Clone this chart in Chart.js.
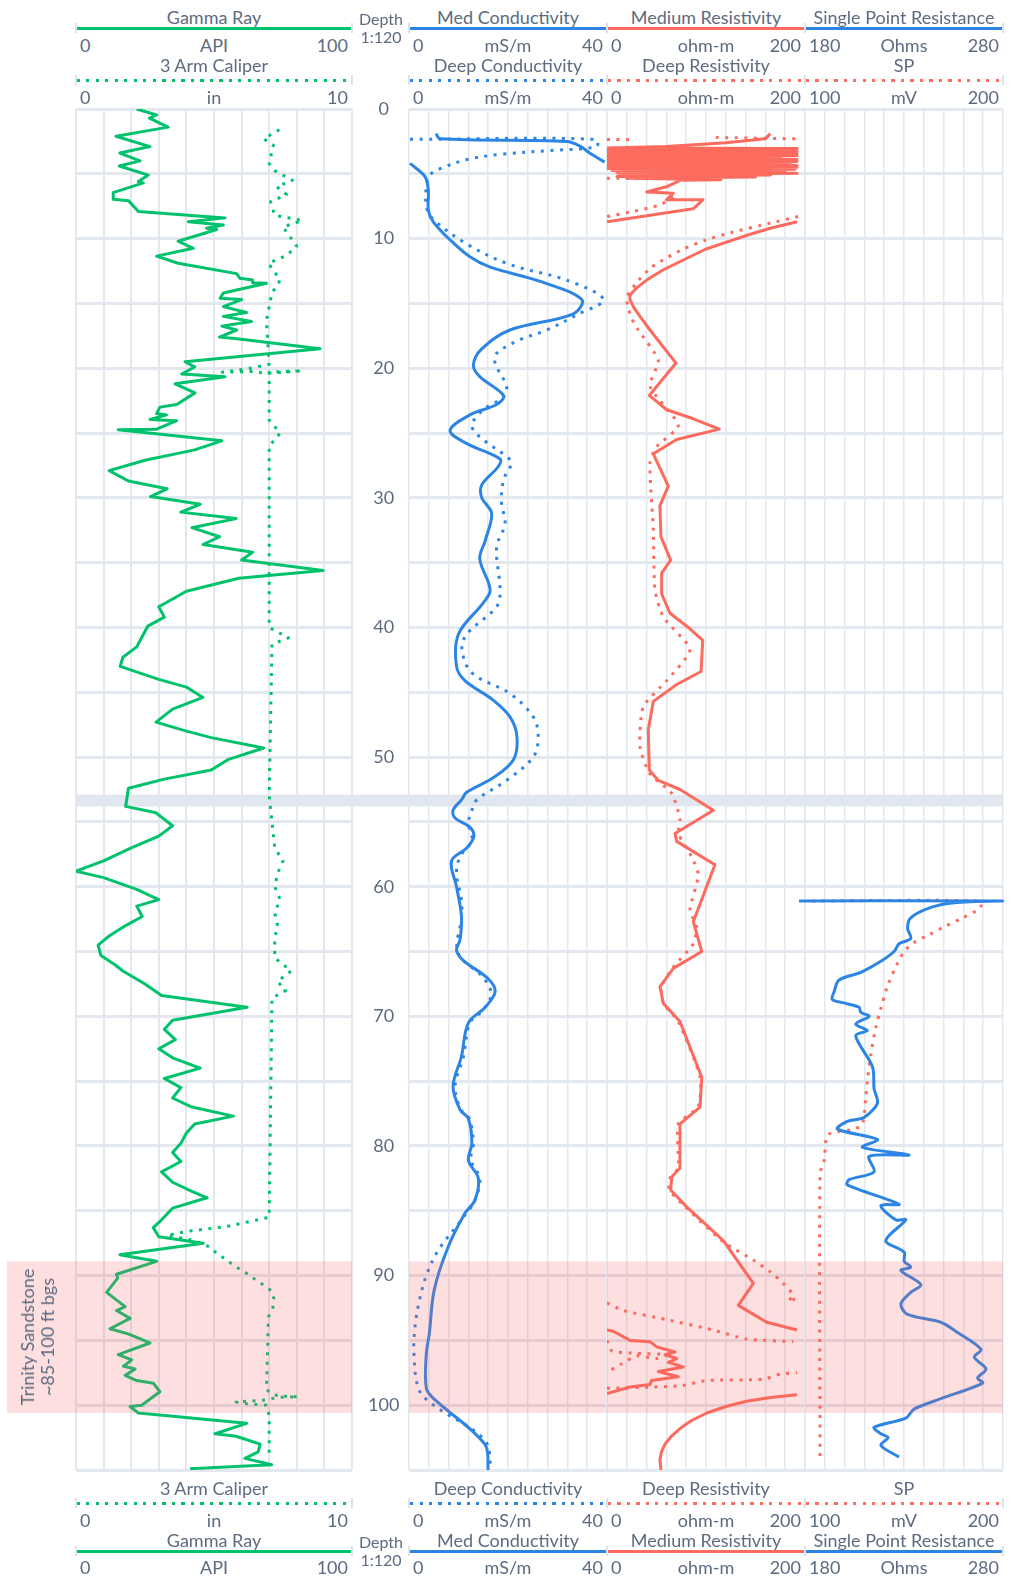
<!DOCTYPE html>
<html>
<head>
<meta charset="utf-8">
<title>Well log</title>
<script src="https://cdn.jsdelivr.net/npm/chart.js@4.4.1/dist/chart.umd.min.js"></script>
<style>
  html, body { margin: 0; padding: 0; background: #fff; }
  #page { position: relative; width: 1015px; height: 1583px; overflow: hidden; font-family: Lato, "Noto Sans", sans-serif; color: #5c6b80; }
  #page canvas { position: absolute; }
  .lbl { position: absolute; font-size: 18px; line-height: 20px; white-space: nowrap; }
  .hline { position: absolute; height: 3px; }
  .cap { position: absolute; width: 2px; height: 10px; background: #dde3ea; }
  #formation { position: absolute; left: 37px; top: 1337px; font-size: 18px; line-height: 20px; text-align: center; white-space: nowrap; transform: translate(-50%, -50%) rotate(-90deg); }
</style>
</head>
<body>
<div id="page">
  <canvas id="gammaChart" width="409" height="1441" style="left:0;top:69px"></canvas>
  <canvas id="condChart" width="216" height="1441" style="left:400px;top:69px"></canvas>
  <canvas id="resChart" width="216" height="1441" style="left:598px;top:69px"></canvas>
  <canvas id="sprChart" width="216" height="1441" style="left:796px;top:69px"></canvas>
  <div id="formation">Trinity Sandstone<br>~85-100 ft bgs</div>
</div>
<script>
// depth interval of the formation band and the page-break band (ft)
const formationDepths = [88.9, 100.6];
const breakDepths = [52.9, 53.8];

// Gamma Ray (API)
const gammaDepth = [0, 0.46, 0.7, 1.4, 2.1, 2.9, 3.4, 4.0, 4.4, 5.1, 5.6, 5.7, 6.45, 6.97, 7.07, 7.9, 8.4, 8.7, 8.95, 9.2, 9.3,
  10.2, 10.75, 11.35, 11.9, 12.7, 13.06, 13.2, 13.4, 13.45, 14.2, 14.6, 14.7, 15.25, 15.7, 16.0, 16.4, 16.75, 17.05, 17.6, 17.7,
  18.5, 19.5, 19.9, 20.45, 20.65, 21.2, 21.9, 22.8, 23.0, 23.5, 23.6, 23.95, 24.05, 24.7, 24.75, 25.6, 26.3,
  27.1, 27.9, 28.7, 29.3, 29.9, 30.5, 31.1, 31.6, 32.3, 33.0, 33.6, 34.2, 34.8, 35.6, 36.2, 37.2, 38.4, 39.2, 39.9, 40.7,
  41.5, 42.3, 43.0, 44.0, 44.6, 45.4, 46.3, 47.3, 48.0, 48.5, 49.3, 50.2, 51.0, 51.7, 52.4, 53.8,
  54.3, 55.3, 56.1, 57.0, 58.0, 58.8, 59.3, 60.2, 61.0, 61.5, 62.3, 63.0, 63.8, 64.5, 65.3, 66.0, 66.5, 67.5, 68.4, 69.3,
  70.3, 71.0, 71.8, 72.5, 73.2, 74.0, 74.8, 75.5, 76.3, 77.0, 77.7, 78.3, 79.0, 79.8, 80.5, 81.2, 82.0, 82.8, 83.5, 84.0,
  84.8, 85.7, 86.3, 87.0, 87.5, 88.4, 88.9, 89.9, 90.2, 91.3, 92.4, 92.7, 93.3, 94.1, 94.5, 95.2, 96.1, 96.5, 97.0, 97.2,
  97.7, 98.1, 98.3, 98.96, 100.0, 100.1, 100.6, 101.4, 102.2, 102.4, 103.0, 103.6, 104.1, 104.6, 104.9];
const gammaApi = [22, 29.2, 26.6, 33.4, 14.5, 26.8, 15.9, 23.2, 15.7, 26.2, 22.6, 24.4, 13.5, 13.5, 19, 22.6, 54, 40.7, 53.4, 47.3, 51,
  37, 42.5, 29.2, 37, 58.2, 59.4, 64, 64, 69, 53.4, 52.2, 60, 53.4, 61.8, 53.4, 63.6, 52.8, 58.2, 52, 57.6,
  88.4, 39.5, 43, 38.3, 54, 35.9, 43.1, 36.5, 30.4, 29.2, 32.8, 26.8, 36.5, 29.2, 15.3, 52.8, 43,
  25, 12, 19, 33, 27, 45, 38, 58, 42, 52, 46, 64, 60, 89.5, 59, 40, 30, 32, 26, 24,
  22, 17, 16, 30, 40, 46, 35, 29, 40, 49, 68, 55, 49, 32, 19, 18,
  29, 35, 30, 20, 10, 0, 10, 22, 30, 22, 24, 18, 12, 8, 9, 14, 17, 25, 31, 62,
  35, 32, 36, 30, 35, 45, 32, 38, 35, 42, 57, 43, 40, 38, 35, 38, 31, 35, 42, 47.5,
  35, 31, 28, 30, 46.1, 15.9, 29.2, 14.7, 15.1, 11.1, 17.8, 14.7, 19.6, 12.3, 18.9, 26.8, 15.3, 20.2, 17.2, 21.4,
  17.8, 22, 28, 30.4, 23.8, 19.6, 22.6, 61.8, 50.4, 58, 66.7, 66, 61.2, 70.9, 41.3];

// 3 Arm Caliper (in)
const caliperDepth = [1.6, 2.3, 2.8, 4.2, 4.75, 5.5, 6.0, 6.6, 7.15, 8.2, 8.6, 9.1, 10.6, 11.3, 11.9, 13.2, 14.2, 16.3, 19.7,
  20.05, 20.3, 20.25, 20.4, 20.2, 20.3, 21.5, 24.0, 25.0, 26.0, 40.0, 40.8, 41.3, 53.0, 57.0, 58.0, 59.0, 60.0, 61.0, 62.0,
  63.0, 64.0, 65.5, 66.5, 67.3, 68.0, 68.6, 85.5, 86.2, 86.6, 86.9, 87.3, 87.8, 88.3, 88.8, 89.2, 89.9, 90.4, 90.8, 91.2,
  91.8, 92.5, 93.2, 95.0, 98.8, 99.2, 99.3, 99.35, 99.4, 99.6, 99.75, 99.9, 100.0, 100.8, 104.1];
const caliperIn = [7.37, 6.8, 7.15, 7.0, 7.2, 7.84, 7.27, 7.63, 7.05, 7.2, 8.2, 7.5, 8.0, 7.63, 6.97, 7.4, 7.1, 6.9, 7.0,
  6.2, 5.3, 6.4, 6.9, 8.2, 7.0, 7.0, 7.0, 7.4, 7.0, 7.0, 7.7, 7.1, 7.0, 7.2, 7.5, 7.3, 7.2, 7.4, 7.2,
  7.3, 7.2, 7.2, 7.8, 7.3, 7.6, 7.1, 7.0, 5.5, 4.0, 3.3, 4.3, 4.85, 5.1, 5.46, 5.7, 6.24, 6.55, 6.85, 7.09,
  7.17, 7.13, 6.97, 6.95, 6.9, 7.15, 7.5, 8.05, 7.3, 6.9, 5.8, 6.2, 6.9, 7.0, 7.0];

// Med Conductivity (mS/m); null = gap in the trace
const medCondDepth = [1.9, 2.3, 2.5, 2.9, 3.4, 4.1, null, 4.2, 5.2, 6.25, 7.8, 8.7, 10.1, 11.4, 12.2, 13.3, 14.7, 15.8, 17.05,
  18.5, 19.75, 20.65, 22.1, 22.8, 23.6, 24.8, 25.8, 27.0, 27.6, 29.0, 30.0, 31.2, 33.3, 34.7, 37.1, 38.1, 40.5, 43.0, 44.1,
  45.6, 46.9, 48.4, 50.2, 51.6, 52.7, 53.3, 54.1, 54.7, 55.4, 56.1, 57.0, 58.0, 60.0, 62.3, 64.1, 64.9, 65.7, 67.1, 68.1,
  69.3, 70.5, 73.1, 75.4, 77.2, 77.9, 79.8, 81.1, 82.5, 84.2, 85.2, 87.8, 91.1, 94.5, 96.0, 98.7, 99.5, 103.0, 105.0];
const medCondValue = [5.45, 6.3, 31.9, 34.7, 36.5, 39.5, null, 0.2, 3.2, 3.9, 3.9, 4.9, 8.3, 12.3, 16.4, 26.5, 34.9, 33.2, 20.4,
  14.7, 13.0, 14.3, 19.1, 17.7, 12.3, 8.3, 11.6, 18.4, 18.0, 14.7, 14.7, 16.7, 15.4, 14.3, 16.4, 15.0, 10.0, 9.6, 11.3,
  17.0, 20.4, 21.8, 21.1, 17.0, 11.7, 10.6, 8.9, 9.3, 12.3, 13.1, 11.7, 8.6, 9.6, 10.6, 10.3, 9.6, 11.0, 16.0, 17.4,
  15.4, 12.0, 10.6, 8.9, 10.3, 12.0, 12.7, 12.0, 14.0, 13.3, 11.3, 7.9, 5.1, 4.1, 3.5, 3.5, 5.0, 15.3, 16.0];

// Deep Conductivity (mS/m)
const deepCondDepth = [2.34, 2.34, 2.9, 3.2, 3.5, 3.9, 4.6, 5.1, 6.0, 7.5, 8.4, 10.4, 12.0, 13.2, 14.7, 15.8, 17.05, 17.8, 18.85,
  19.6, 21.4, 22.2, 23.2, 24.4, 25.3, 26.8, 27.3, 28.6, 30.4, 32.0, 33.8, 37.1, 38.4, 40.5, 41.7, 43.5, 45.1, 46.9, 48.4,
  50.0, 51.8, 53.3, 54.1, 55.1, 56.4, 57.7, 59.0, 61.0, 62.4, 65.1, 67.0, 68.3, 69.5, 70.5, 73.1, 75.4, 77.2, 77.9, 79.8,
  81.1, 82.5, 84.2, 85.5, 88.0, 90.0, 92.1, 94.0, 96.0, 98.8, 100.0, 102.7, 105.0];
const deepCondValue = [0.2, 37.7, 37.9, 28.5, 18.4, 11.7, 6.3, 4.2, 3.5, 3.5, 4.6, 11.6, 20.4, 31.8, 39.3, 34.3, 27.8, 22.4, 17.7,
  17.4, 19.7, 19.1, 15.0, 12.7, 14.3, 19.7, 20.7, 19.1, 18.7, 19.4, 17.7, 18.4, 17.7, 11.7, 10.7, 12.7, 20.4, 25.1, 26.1,
  25.1, 19.7, 13.7, 12.7, 12.0, 12.7, 10.3, 9.6, 10.6, 10.6, 9.9, 15.0, 16.6, 15.0, 12.3, 11.0, 9.3, 10.5, 12.2, 13.0,
  12.5, 14.3, 13.3, 11.0, 6.0, 3.5, 2.0, 1.2, 1.0, 2.0, 5.0, 15.3, 16.6];

// Medium Resistivity (ohm-m)
const medResDepth = [1.9, 2.3, 2.6, 2.9, 3.0, 3.05, 3.1, 3.15, 3.25, 3.3, 3.4, 3.45, 3.55, 3.6, 3.7, 3.75, 3.85, 3.9, 4.0, 4.05,
  4.15, 4.2, 4.3, 4.35, 4.45, 4.5, 4.6, 4.65, 4.75, 4.8, 4.9, 4.95, 5.05, 5.1, 5.2, 5.25, 5.35, 5.45, 5.5, 6.0, 6.4, 6.5,
  7.0, 7.0, 7.7, 8.7, null, 8.7, 9.2, 9.7, 10.1, 10.8, 11.65, 12.4, 13.2, 13.8, 14.35, 14.7, 15.3, 16.0, 17.05, 19.6, 22.1,
  23.2, 23.9, 24.7, 25.5, 26.6, 29.1,
  30.6, 33.0, 34.8, 35.8, 37.4, 38.9, 40.1, 41.0, 43.4, 44.4, 45.7, 47.9, 51.0, 51.8, 52.5, 54.1, 55.9, 56.5, 58.3, 62.7,
  65.0, 66.3, 67.7, 69.0, 70.4, 74.7, 77.0, 78.3, 81.7, 82.4, 83.4, 84.7, 87.3, 90.6, 92.3, 93.6, 94.2, null, 94.2, 94.3,
  95.0, 95.1, 95.5, 95.9, 96.1, 96.4, 96.7, 97.05, 97.4, 97.8, 98.1, 98.4, 98.6, 99.1, null, 99.2, 99.4, 99.7, 100.1, 100.6,
  101.2, 101.8, 102.4, 103.0, 103.6, 104.2, 105.0];
const medResValue = [165, 160, 120, 60, 0, 192, 0, 192, 0, 192, 0, 192, 0, 192, 0, 175, 0, 192, 0, 192,
  0, 185, 0, 192, 0, 192, 0, 190, 5, 180, 10, 192, 12, 165, 10, 150, 20, 115, 74, 60, 40, 67,
  60, 97, 87, 0, null, 192, 165, 143, 127.6, 100, 77, 57, 40, 30, 23.2, 23.2, 27, 33.3, 43.4, 69.7, 42.7,
  60.3, 87.2, 113.4, 70.4, 46.8, 61.9,
  53.5, 54.5, 64.3, 55.2, 55.2, 63.6, 83.8, 96.7, 95, 70.4, 46.8, 41.7, 42.7, 51.8, 73.7, 107.4, 68.7, 70.4, 109, 87.2,
  95.7, 67, 53.5, 56.9, 73.7, 95.7, 94, 73.7, 73.7, 65.4, 64.3, 80.5, 117.5, 147.8, 132.6, 161.3, 192, null, 0, 6.4,
  23.2, 43.4, 50.2, 68.7, 58.6, 70.4, 62, 77.1, 51.8, 72, 45, 43.4, 23.2, 0, null, 192, 165, 141, 120, 100.7,
  85, 73.7, 65, 58.6, 55, 53.5, 54.5];

// Deep Resistivity (ohm-m)
const deepResDepth = [2.2, 2.3, null, 2.35, 2.35, null, 5.35, 5.3, 5.25, 5.2, 5.1, 5.0, null, 6.8, 7.4, 7.9, 8.3, null,
  8.3, 8.8, 9.5, 10.1, 10.8, 11.5, 12.2, 13.2, 14.5, 15.5, 16.5, 17.05, 19.4, 21.4, 24.4, 26.05, 27.3, 32.5, 37.1, 39.2,
  41.7, 44.1, 46.1,
  49.2, 51.3, 52.8, 54.8, 55.9, 57.7, 59.1, 61.8, 63.1, 64.4, 66.2, 67.7, 69.0, 70.4, 74.7, 77.0, 78.3, 81.7, 82.4, 83.4,
  84.7, 87.4, 88.8, 89.7, 90.6, 91.5, 92.0, 91.8, null, 92.1, 92.7, 93.4, 94.2, 94.9, 95.1, null, 95.0, 95.8, 96.0, 96.1,
  96.4, 96.2, 96.8, 97.4, null, 98.7, 98.6, 98.5, 98.1, 98.0, 97.6, 97.5];
const deepResValue = [110, 192, null, 0, 27, null, 0, 40, 70, 100, 140, 174, null, 67, 53.5, 26.6, 0, null,
  193, 165, 127, 100, 77, 60, 45, 32, 20, 22, 27, 31.6, 51.8, 43.4, 72, 50.2, 43.4, 46.8, 48.5, 56.9,
  83.8, 60.3, 36.7,
  33.3, 43.4, 65.4, 73.7, 72, 85.6, 92.2, 83.8, 90.6, 87.2, 67, 55, 57, 72, 94, 92, 72, 72, 64, 63,
  79, 117.5, 147.8, 164.6, 178, 188, 183, 190, null, 0, 16.5, 60.3, 107.4, 141, 188, null, 0, 4.7, 30, 60.3,
  50, 30, 15, 1.3, null, 0, 45, 75, 100.7, 158, 175, 192];

// Single Point Resistance (Ohms)
const sprDepth = [61.1, 61.1, 61.24, 61.6, 62.4, 63.2, 64.0, 64.4, 65.0, 65.75, 66.6, 67.2, 68.1, 68.7, 69.0, 69.3, 69.7, 70.0,
  70.6, 71.1, 71.5, 73.9, 75.6, 76.7, 77.8, 78.1, 78.7, 79.5, 80.1, 80.7, 80.8, 82.0, 82.6, 83.0, 84.5, 84.6, 85.7, 85.7,
  87.3, 88.2, 88.9, 89.35, 89.6, 90.7, 91.3, 92.2, 93.0, 93.6, 94.4, 95.7, 96.3, 97.2, 97.9, 98.3, 99.5, 100.3, 101.0,
  101.7, 102.2, 102.5, 103.1, 104.0];
const sprOhms = [177, 279.8, 255.4, 243.6, 233.4, 231.8, 233.4, 227.5, 225.0, 218.3, 208.2, 197.2, 194.7, 193.8, 200.6, 207.3, 208.2, 212.4,
  205.6, 211.5, 205.6, 214.1, 214.9, 216.6, 209.8, 201.4, 196.4, 216.6, 209.0, 232.6, 212.4, 214.9, 202.3, 201.4, 227.5, 218.3, 225.9, 230.9,
  220.8, 230.1, 230.1, 233.4, 228.4, 238.5, 233.4, 228.4, 231.8, 248.6, 257.1, 268.9, 265.5, 271.4, 267.2, 269.7, 248.6, 235.1, 230.9,
  214.9, 218.3, 222, 218.3, 227.5];

// SP (mV)
const spDepth = [61.1, 61.1, 61.5, 61.8, 62.4, 63.1, 63.7, 64.3, 65.0, 65.9, 67.7, 69.4, 70.9, 73.0, 75.0, 76.2, 78.3, 78.7,
  78.9, 79.2, 81.2, 82.1, 104.0];
const spMv = [103.7, 188, 188.9, 187.2, 179.6, 170.3, 162.7, 155.1, 150.1, 146.7, 141.6, 138.3, 135.7, 133.2, 131.5, 130.7, 129.0, 124.8,
  116.4, 111.3, 109.6, 107.6, 107.6];

// depth tick labels
const depthLabels = [0, 10, 20, 30, 40, 50, 60, 70, 80, 90, 100];

const GREEN = '#00c26d', BLUE = '#2c85e4', RED = '#fc6b5e';
const GRID = '#e3e8ee';
const TEXT = '#5c6b80';

Chart.defaults.font.family = 'Lato';
Chart.defaults.font.size = 18;
Chart.defaults.color = TEXT;

// header layout
const page = document.getElementById('page');
function addText(txt, x, y, align, size) {
  const el = document.createElement('div');
  el.className = 'lbl';
  el.textContent = txt;
  if (size) { el.style.fontSize = size + 'px'; }
  el.style.top = (y - 10) + 'px';
  if (align === 'left') el.style.left = x + 'px';
  else if (align === 'right') el.style.right = (1015 - x) + 'px';
  else { el.style.left = x + 'px'; el.style.transform = 'translateX(-50%)'; }
  page.appendChild(el);
}
function addCurveHeader(left, width, h, titleY, lineY, unitY) {
  addText(h.title, left + width / 2, titleY, 'center');
  const ln = document.createElement('div');
  ln.className = 'hline';
  ln.style.left = (left + 1) + 'px';
  ln.style.width = (width - 2) + 'px';
  ln.style.top = (lineY - 1.5) + 'px';
  ln.style.background = h.dotted
    ? 'repeating-linear-gradient(to right, ' + h.color + ' 0 3px, transparent 3px 9.5px)'
    : h.color;
  page.appendChild(ln);
  [left - 1, left + width - 1].forEach(x => {
    const c = document.createElement('div');
    c.className = 'cap';
    c.style.left = x + 'px';
    c.style.top = (lineY - 5) + 'px';
    page.appendChild(c);
  });
  addText(String(h.min), left + 4, unitY, 'left');
  addText(h.unit, left + width / 2, unitY, 'center');
  addText(String(h.max), left + width - 4, unitY, 'right');
}

const trackHeaders = [
  { left: 76, width: 276, solid: { title: 'Gamma Ray', unit: 'API', min: 0, max: 100, color: GREEN },
    dot: { title: '3 Arm Caliper', unit: 'in', min: 0, max: 10, color: GREEN, dotted: true } },
  { left: 409, width: 198, solid: { title: 'Med Conductivity', unit: 'mS/m', min: 0, max: 40, color: BLUE },
    dot: { title: 'Deep Conductivity', unit: 'mS/m', min: 0, max: 40, color: BLUE, dotted: true } },
  { left: 607, width: 198, solid: { title: 'Medium Resistivity', unit: 'ohm-m', min: 0, max: 200, color: RED },
    dot: { title: 'Deep Resistivity', unit: 'ohm-m', min: 0, max: 200, color: RED, dotted: true } },
  { left: 805, width: 198, solid: { title: 'Single Point Resistance', unit: 'Ohms', min: 180, max: 280, color: BLUE },
    dot: { title: 'SP', unit: 'mV', min: 100, max: 200, color: RED, dotted: true } }
];
trackHeaders.forEach(t => {
  addCurveHeader(t.left, t.width, t.solid, 17, 28, 45);
  addCurveHeader(t.left, t.width, t.dot, 65, 80, 97);
  addCurveHeader(t.left, t.width, t.dot, 1488, 1503, 1520);
  addCurveHeader(t.left, t.width, t.solid, 1540, 1551, 1567);
});
addText('Depth', 381, 19, 'center', 16);
addText('1:120', 381, 37, 'center', 16);
addText('Depth', 381, 1542, 'center', 16);
addText('1:120', 381, 1560, 'center', 16);

// bands: page break (under curves) and formation (translucent, over curves)
const bandsPlugin = {
  id: 'bands',
  beforeDatasetsDraw(chart, args, o) {
    const { ctx, chartArea: a, scales: { y } } = chart;
    const t = y.getPixelForValue(breakDepths[0]);
    const b = y.getPixelForValue(breakDepths[1]);
    const l = a.left, r = o.breakRight || a.right;
    ctx.save();
    ctx.fillStyle = '#e1e7ee';
    ctx.fillRect(l, t, r - l, b - t);
    ctx.restore();
  },
  afterDatasetsDraw(chart, args, o) {
    const { ctx, chartArea: a, scales: { y } } = chart;
    const t = y.getPixelForValue(formationDepths[0]);
    const b = y.getPixelForValue(formationDepths[1]);
    const l = o.zoneLeft !== undefined ? o.zoneLeft : a.left;
    ctx.save();
    ctx.fillStyle = 'rgba(245, 95, 95, 0.2)';
    ctx.fillRect(l, t, a.right - l, b - t);
    ctx.restore();
  }
};

function xAxis(min, max, step, show) {
  return {
    type: 'linear', position: 'top', min: min, max: max, display: show,
    ticks: { display: false, stepSize: step },
    grid: { color: GRID, lineWidth: 1.5, drawTicks: false },
    border: { display: false },
    afterFit: s => { s.height = 0; }
  };
}
function yAxis(withLabels) {
  return {
    type: 'linear', reverse: true, min: 0, max: 105,
    position: withLabels ? 'right' : 'left',
    ticks: {
      display: withLabels, stepSize: 5, padding: 16, crossAlign: 'center',
      callback: v => depthLabels.includes(v) ? String(v) : ''
    },
    grid: { color: GRID, lineWidth: 3, drawTicks: false, drawOnChartArea: true },
    border: { display: false },
    afterFit: s => { s.width = withLabels ? 57 : 0; }
  };
}
function curve(depths, values, color, dotted, axisId, tension, clip) {
  const ds = {
    data: depths.map((d, i) => ({ x: values[i], y: d })),
    xAxisID: axisId, yAxisID: 'y',
    showLine: true, pointRadius: 0, borderWidth: 3, borderColor: color,
    borderDash: dotted ? [3, 6.5] : [], tension: tension || 0, spanGaps: false,
    borderJoinStyle: 'round'
  };
  if (clip) ds.clip = clip;
  return ds;
}
function makeChart(id, datasets, scales, pad, bandOpts) {
  return new Chart(document.getElementById(id), {
    type: 'scatter',
    data: { datasets: datasets },
    options: {
      responsive: false, animation: false, devicePixelRatio: 1,
      layout: { padding: pad },
      scales: scales,
      plugins: { legend: { display: false }, tooltip: { enabled: false }, bands: bandOpts }
    },
    plugins: [bandsPlugin]
  });
}

makeChart('gammaChart', [
  curve(gammaDepth, gammaApi, GREEN, false, 'x'),
  curve(caliperDepth, caliperIn, GREEN, true, 'x2')
], { x: Object.assign(xAxis(0, 100, 10, true), { grid: { color: GRID, lineWidth: 2, drawTicks: false } }), x2: xAxis(0, 10, 1, false), y: yAxis(true) },
  { left: 76, right: 0, top: 40, bottom: 40 }, { zoneLeft: 7, breakRight: 409 });

const trackPad = { left: 9, right: 9, top: 40, bottom: 40 };
makeChart('condChart', [
  curve(medCondDepth, medCondValue, BLUE, false, 'x', 0.35),
  curve(deepCondDepth, deepCondValue, BLUE, true, 'x', 0.35)
], { x: xAxis(0, 40, 4, true), y: yAxis(false) }, trackPad, {});

makeChart('resChart', [
  curve(medResDepth, medResValue, RED, false, 'x'),
  curve(deepResDepth, deepResValue, RED, true, 'x', 0.2)
], { x: xAxis(0, 200, 20, true), y: yAxis(false) }, trackPad, {});

makeChart('sprChart', [
  curve(sprDepth, sprOhms, BLUE, false, 'x', 0.3, { left: 8, right: 2, top: 2, bottom: 2 }),
  curve(spDepth, spMv, RED, true, 'x2', 0.3)
], { x: xAxis(180, 280, 10, true), x2: xAxis(100, 200, 10, false), y: yAxis(false) }, trackPad, {});
</script>
